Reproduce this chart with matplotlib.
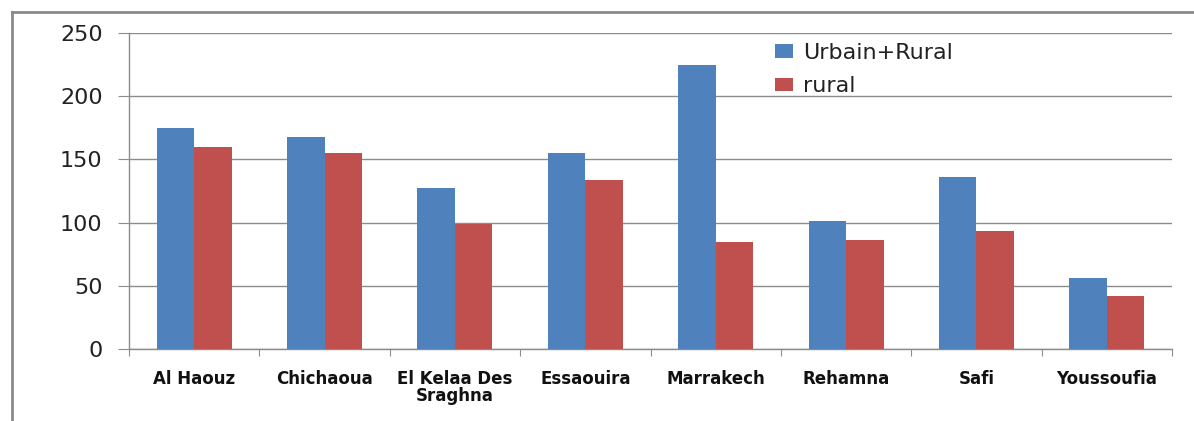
import matplotlib
matplotlib.use('Agg')
import matplotlib.pyplot as plt
from matplotlib.lines import Line2D
from matplotlib.patches import Patch
import numpy as np

categories = ['Al Haouz', 'Chichaoua', 'El Kelaa Des\nSraghna', 'Essaouira',
              'Marrakech', 'Rehamna', 'Safi', 'Youssoufia']
urbain_rural = [175, 168, 127, 155, 225, 101, 136, 56]
rural = [160, 155, 99, 134, 85, 86, 93, 42]
y_ticks = [0, 50, 100, 150, 200, 250]

BLUE = '#4F81BD'
RED = '#C0504D'
GRID = '#8c8c8c'

W, H = 1194, 421
dpi = 100
fig = plt.figure(figsize=(W / dpi, H / dpi), dpi=dpi)
fig.patch.set_facecolor('white')
ax = fig.add_axes([129 / W, 1 - 349 / H, (1172 - 129) / W, (349 - 33) / H])

x = np.arange(len(categories))
bw = 0.288
ax.bar(x - bw / 2, urbain_rural, width=bw, color=BLUE, label='Urbain+Rural', zorder=3)
ax.bar(x + bw / 2, rural, width=bw, color=RED, label='rural', zorder=3)

ax.set_xlim(-0.5, len(categories) - 0.5)
ax.set_ylim(0, 250)
ax.set_yticks(y_ticks)
ax.yaxis.grid(True, color=GRID, linewidth=1)
ax.set_axisbelow(True)

for s in ['top', 'right']:
    ax.spines[s].set_visible(False)
for s in ['left', 'bottom']:
    ax.spines[s].set_color(GRID)
    ax.spines[s].set_linewidth(1)

# category boundaries as major ticks, labels on minor ticks
ax.set_xticks(np.arange(-0.5, len(categories), 1.0))
ax.set_xticklabels([])
ax.set_xticks(x, minor=True)
ax.set_xticklabels(categories, minor=True, fontfamily='DejaVu Sans', fontweight='bold',
                   fontsize=12, color='#111111', linespacing=0.95)
ax.tick_params(axis='x', which='major', length=5, color=GRID, direction='out')
ax.tick_params(axis='x', which='minor', length=0, pad=15)
ax.tick_params(axis='y', length=8, color=GRID, labelsize=16, labelcolor='#222222', pad=11)
for lbl in ax.get_yticklabels():
    lbl.set_fontfamily('DejaVu Sans')

handles = [Patch(facecolor=BLUE), Patch(facecolor=RED)]
fig.legend(handles, ['Urbain+Rural', 'rural'], loc='upper left',
           bbox_to_anchor=(755 / W, 1 - 23 / H), frameon=False,
           prop={'family': 'DejaVu Sans', 'size': 16},
           handlelength=0.8, handleheight=0.55, handletextpad=0.45,
           labelspacing=0.6, labelcolor='#222222')

# outer chart frame, cut off at right and bottom
fig.add_artist(Line2D([12 / W, 12 / W], [1 - 12 / H, 0], transform=fig.transFigure,
                      color='#8a8a8a', linewidth=2))
fig.add_artist(Line2D([12 / W, 1], [1 - 12 / H, 1 - 12 / H], transform=fig.transFigure,
                      color='#8a8a8a', linewidth=2))

fig.savefig('out.png', dpi=dpi, facecolor='white')
plt.close(fig)
